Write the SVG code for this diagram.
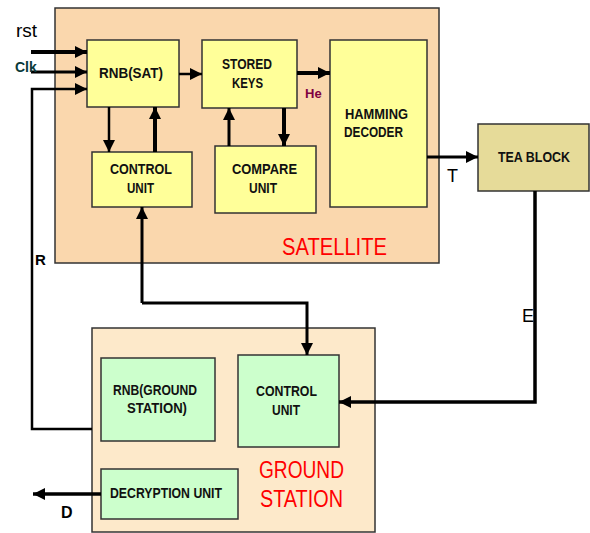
<svg xmlns="http://www.w3.org/2000/svg" width="590" height="533" viewBox="0 0 590 533">
<defs>
<marker id="ah" markerUnits="userSpaceOnUse" markerWidth="14" markerHeight="12" refX="12" refY="6" orient="auto">
<path d="M0,0 L12,6 L0,12 z" fill="#000"/>
</marker>
<style>
.box{stroke:#333;stroke-width:1.5}
.sat{fill:#FAD7AD}
.gs{fill:#FDE9CA}
.yel{fill:#FFFF99}
.grn{fill:#CCFFCC}
.tea{fill:#E6DB99}
.lbl{font-family:"Liberation Sans",Arial,sans-serif;font-weight:bold;font-size:15px;fill:#111}
.red{font-family:"Liberation Sans",Arial,sans-serif;font-size:23px;fill:#FF0000}
.ln{fill:none;stroke:#000;stroke-width:3}
.sig{font-family:"Liberation Sans",Arial,sans-serif;fill:#000}
</style>
</defs>

<g id="satellite">
<rect class="box sat" x="55" y="8" width="384" height="255"/>
<text class="red" x="282" y="255" textLength="105" lengthAdjust="spacingAndGlyphs">SATELLITE</text>
</g>
<g id="ground-station">
<rect class="box gs" x="92" y="328" width="283" height="204"/>
<text class="red" x="259" y="478" textLength="85" lengthAdjust="spacingAndGlyphs">GROUND</text>
<text class="red" x="260" y="507" textLength="83" lengthAdjust="spacingAndGlyphs">STATION</text>
</g>

<g id="rnb-sat">
<rect class="box yel" x="87" y="40" width="92" height="67"/>
<text class="lbl" x="99" y="78" textLength="64" lengthAdjust="spacingAndGlyphs">RNB(SAT)</text>
</g>
<g id="stored-keys">
<rect class="box yel" x="202" y="40" width="95" height="68"/>
<text class="lbl" x="222" y="69" textLength="50" lengthAdjust="spacingAndGlyphs">STORED</text>
<text class="lbl" x="232" y="88" textLength="31" lengthAdjust="spacingAndGlyphs">KEYS</text>
</g>
<g id="hamming-decoder">
<rect class="box yel" x="330" y="40" width="97" height="167"/>
<text class="lbl" x="345" y="119" textLength="63" lengthAdjust="spacingAndGlyphs">HAMMING</text>
<text class="lbl" x="344" y="137" textLength="59" lengthAdjust="spacingAndGlyphs">DECODER</text>
</g>
<g id="control-unit-sat">
<rect class="box yel" x="92" y="152" width="100" height="55"/>
<text class="lbl" x="110" y="174" textLength="62" lengthAdjust="spacingAndGlyphs">CONTROL</text>
<text class="lbl" x="127" y="193" textLength="27" lengthAdjust="spacingAndGlyphs">UNIT</text>
</g>
<g id="compare-unit">
<rect class="box yel" x="215" y="146" width="101" height="67"/>
<text class="lbl" x="232" y="174" textLength="65" lengthAdjust="spacingAndGlyphs">COMPARE</text>
<text class="lbl" x="249" y="193" textLength="28" lengthAdjust="spacingAndGlyphs">UNIT</text>
</g>
<g id="tea-block">
<rect class="box tea" x="478" y="124" width="111" height="67"/>
<text class="lbl" x="498" y="162" textLength="72" lengthAdjust="spacingAndGlyphs">TEA BLOCK</text>
</g>
<g id="rnb-ground">
<rect class="box grn" x="101" y="358" width="114" height="83"/>
<text class="lbl" x="113" y="395" textLength="84" lengthAdjust="spacingAndGlyphs">RNB(GROUND</text>
<text class="lbl" x="127" y="413" textLength="60" lengthAdjust="spacingAndGlyphs">STATION)</text>
</g>
<g id="control-unit-ground">
<rect class="box grn" x="238" y="355" width="101" height="92"/>
<text class="lbl" x="256" y="396" textLength="61" lengthAdjust="spacingAndGlyphs">CONTROL</text>
<text class="lbl" x="272" y="415" textLength="28" lengthAdjust="spacingAndGlyphs">UNIT</text>
</g>
<g id="decryption-unit">
<rect class="box grn" x="101" y="469" width="137" height="50"/>
<text class="lbl" x="110" y="498" textLength="112" lengthAdjust="spacingAndGlyphs">DECRYPTION UNIT</text>
</g>

<g id="connectors">
<path class="ln" style="stroke-width:4" d="M31,52 L87,52" marker-end="url(#ah)"/>
<path class="ln" d="M31,72 L87,72" marker-end="url(#ah)"/>
<path class="ln" style="stroke-width:2.5" d="M92,429 L32,429 L32,89 L87,89" marker-end="url(#ah)"/>
<path class="ln" style="stroke-width:2.5" d="M179,74 L202,74" marker-end="url(#ah)"/>
<path class="ln" style="stroke-width:4" d="M297,73 L330,73" marker-end="url(#ah)"/>
<path class="ln" style="stroke-width:2.5" d="M109,107 L109,152" marker-end="url(#ah)"/>
<path class="ln" style="stroke-width:4" d="M155,152 L155,107" marker-end="url(#ah)"/>
<path class="ln" style="stroke-width:3" d="M229,146 L229,108" marker-end="url(#ah)"/>
<path class="ln" style="stroke-width:4" d="M284,108 L284,146" marker-end="url(#ah)"/>
<path class="ln" style="stroke-width:3" d="M427,157 L478,157" marker-end="url(#ah)"/>
<path class="ln" style="stroke-width:3.5" d="M535,191 L535,402 L339,402" marker-end="url(#ah)"/>
<path class="ln" d="M142,303 L142,207" marker-end="url(#ah)"/>
<path class="ln" d="M142,303 L307,303 L307,355" marker-end="url(#ah)"/>
<path class="ln" style="stroke-width:3.5" d="M101,494 L33,494" marker-end="url(#ah)"/>
</g>

<g id="signal-labels">
<text class="sig" x="16" y="37" font-size="19">rst</text>
<text class="sig" x="15" y="72" font-size="14" font-weight="bold" style="fill:#0a3a3a">Clk</text>
<text class="sig" x="305" y="98" font-size="13" font-weight="bold" style="fill:#800040">He</text>
<text class="sig" x="447" y="182" font-size="18">T</text>
<text class="sig" x="522" y="322" font-size="18">E</text>
<text class="sig" x="35" y="265" font-size="15" font-weight="bold">R</text>
<text class="sig" x="61" y="518" font-size="16" font-weight="bold">D</text>
</g>
</svg>
